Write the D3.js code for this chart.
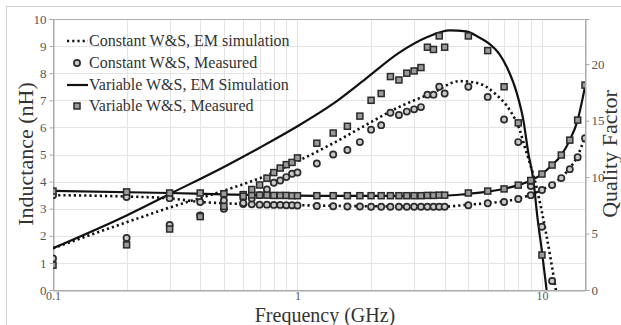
<!DOCTYPE html>
<html><head><meta charset="utf-8">
<script src="https://cdn.jsdelivr.net/npm/d3@7"></script>
<style>
body{margin:0;background:#fff}
svg{display:block}
text{font-family:"Liberation Serif","Times New Roman",serif}
</style>
</head><body>
<svg id="chart" width="621" height="325"></svg>
<script>
// Axis ticks
const freqTicks = [0.1, 1, 10];
const freqGrid = [0.2,0.3,0.4,0.5,0.6,0.7,0.8,0.9,1,2,3,4,5,6,7,8,9,10];
const inductanceTicks = [0,1,2,3,4,5,6,7,8,9,10];
const qTicks = [0,5,10,15,20];

// Measured sweep frequencies (GHz)
const measFreq = [0.1,0.2,0.3,0.4,0.5,0.6,0.65,0.7,0.75,0.8,0.85,0.9,0.95,1.0,
  1.2,1.4,1.6,1.8,2.0,2.2,2.4,2.6,2.8,3.0,3.2,3.4,3.6,3.8,4.0,
  5,6,7,8,9,10,11,12,13,14,15];

// Inductance, measured (nH)
const indConstMeas = [3.50,3.43,3.39,3.25,3.30,3.17,3.16,3.15,3.15,3.14,3.14,3.13,3.13,3.12,
  3.10,3.09,3.08,3.08,3.07,3.07,3.07,3.07,3.07,3.07,3.07,3.07,3.07,3.07,3.07,
  3.13,3.20,3.25,3.36,3.50,3.69,3.87,4.13,4.46,4.90,5.60];
const indVarMeas = [3.65,3.62,3.58,3.58,3.55,3.52,3.51,3.50,3.50,3.49,3.49,3.49,3.48,3.48,
  3.48,3.48,3.48,3.48,3.48,3.48,3.48,3.48,3.48,3.48,3.48,3.49,3.49,3.50,3.50,
  3.58,3.65,3.73,3.87,4.02,4.28,4.61,4.98,5.53,6.27,7.56];

// Quality factor, measured
const qConstMeas = [2.8,4.6,5.75,6.6,7.2,7.7,8.1,8.4,8.9,9.5,9.7,10.0,10.3,10.4,
  11.2,12.0,12.4,13.1,14.2,14.6,15.7,15.5,15.8,16.0,16.2,17.3,17.3,18.0,17.4,
  18.0,17.1,15.1,13.1,9.2,5.6,0.8];
const qVarMeas = [2.2,4.0,5.4,6.5,7.4,8.3,8.9,9.3,9.9,10.4,10.8,11.1,11.3,11.7,
  13.0,13.9,14.5,15.4,16.8,17.4,18.9,18.6,19.2,19.4,19.7,21.5,21.3,22.5,21.5,
  22.5,21.2,18.0,14.8,9.7,3.1];

// EM simulation curves
const indConstSimF = [0.1,0.2,0.3,0.4,0.5,0.7,1,2,4,4.9,5.9,7,8,9,10,11,12,13,14,15];
const indConstSim  = [3.50,3.45,3.38,3.25,3.20,3.16,3.13,3.09,3.08,3.14,3.20,3.27,3.37,3.52,3.70,3.90,4.15,4.50,4.95,5.65];
const indVarSimF = [0.1,0.3,0.5,1,2,4,4.9,5.9,6.7,8,9,10,11,12,13,14,15];
const indVarSim  = [3.66,3.58,3.53,3.48,3.47,3.48,3.54,3.62,3.70,3.87,4.04,4.28,4.61,4.98,5.53,6.27,7.50];
const qConstSimF = [0.1,0.2,0.3,0.5,0.72,1.0,1.4,1.9,2.6,3.6,4.6,5.5,6.5,7.4,8.1,8.5,9.5,10.4,11.4];
const qConstSim  = [3.7,6.0,7.3,8.8,10.0,11.4,13.0,14.6,16.2,17.5,18.5,18.3,17.3,15.9,14.2,12.7,9.1,5.0,0];
const qVarSimF = [0.1,0.2,0.3,0.5,0.7,1.0,1.4,1.9,2.6,3.4,4.2,4.9,5.5,6.1,6.7,7.2,7.9,8.4,8.8,9.2,9.6,10.0,10.45];
const qVarSim  = [3.7,6.6,8.5,10.9,12.6,14.5,16.5,18.7,21.0,22.4,23.0,22.9,22.4,21.8,20.9,19.7,17.4,15.0,12.1,9.9,6.3,3.4,0];

const legendLabels = ["Constant W&S, EM simulation","Constant W&S, Measured",
  "Variable W&S, EM Simulation","Variable W&S, Measured"];

const serif = "'Liberation Serif','Times New Roman',serif";
const svg = d3.select("#chart");
const L = 53, R = 585, T = 19, B = 290;

const x = d3.scaleLog().domain([0.1, 15]).range([L, R]);
const yL = d3.scaleLinear().domain([0, 10]).range([B, T]);
const yQ = d3.scaleLinear().domain([0, 24]).range([B, T]);

// outer frame
svg.append("rect").attr("x",6.5).attr("y",6.5).attr("width",700).attr("height",400)
  .attr("fill","none").attr("stroke","#cfcfcf");

svg.append("defs").append("clipPath").attr("id","plotClip")
  .append("rect").attr("x",L).attr("y",T).attr("width",R-L).attr("height",B-T);

// grid
const grid = svg.append("g").attr("stroke","#e4e4e4").attr("stroke-width",1);
freqGrid.forEach(f => grid.append("line")
  .attr("x1",Math.round(x(f))+0.5).attr("x2",Math.round(x(f))+0.5).attr("y1",T).attr("y2",B));
inductanceTicks.slice(1,-1).forEach(v => grid.append("line")
  .attr("x1",L).attr("x2",R).attr("y1",Math.round(yL(v))+0.5).attr("y2",Math.round(yL(v))+0.5));

// box
svg.append("rect").attr("x",L+0.5).attr("y",T+0.5).attr("width",R-L).attr("height",B-T)
  .attr("fill","none").attr("stroke","#b0b0b0");

// axes
function styleAxis(g, size){
  g.attr("font-family", serif);
  g.select(".domain").attr("stroke","#a8a8a8");
  g.selectAll(".tick line").attr("stroke","#a8a8a8");
  g.selectAll(".tick text").attr("fill","#555").style("font-size",size+"px")
    .style("font-family",serif);
}
svg.append("g").attr("transform",`translate(0,${B+0.5})`)
  .call(d3.axisBottom(x).tickValues(freqTicks).tickFormat(d3.format("")).tickSize(0).tickPadding(1))
  .call(g=>styleAxis(g,12));
svg.append("g").attr("transform",`translate(${L+0.5},0)`)
  .call(d3.axisLeft(yL).tickValues(inductanceTicks).tickSize(4).tickPadding(3))
  .call(g=>styleAxis(g,13));
svg.append("g").attr("transform",`translate(${R+0.5},0)`)
  .call(d3.axisRight(yQ).tickValues(qTicks).tickSize(4).tickPadding(2))
  .call(g=>styleAxis(g,13));

// axis titles
svg.append("text").attr("x",325).attr("y",322).attr("text-anchor","middle")
  .attr("fill","#333").style("font-family",serif).style("font-size","20px").text("Frequency (GHz)");
svg.append("text").attr("transform","translate(33,154) rotate(-90)").attr("text-anchor","middle")
  .attr("fill","#333").style("font-family",serif).style("font-size","22px").text("Inductance (nH)");
svg.append("text").attr("transform","translate(617,154) rotate(-90)").attr("text-anchor","middle")
  .attr("fill","#333").style("font-family",serif).style("font-size","22px").text("Quality Factor");

const plot = svg.append("g").attr("clip-path","url(#plotClip)");
const zip = (a,b) => a.map((v,i)=>[v,b[i]]);

function curve(fs, vs, ys, dotted){
  const line = d3.line().x(d=>x(d[0])).y(d=>ys(d[1])).curve(d3.curveMonotoneX);
  plot.append("path").datum(zip(fs,vs)).attr("d",line).attr("fill","none")
    .attr("stroke","#111").attr("stroke-width",dotted?2.6:2.2)
    .attr("stroke-dasharray",dotted?"2.2,3":null);
}
function circles(fs, vs, ys){
  plot.append("g").selectAll("circle").data(zip(fs,vs)).join("circle")
    .attr("cx",d=>x(d[0])).attr("cy",d=>ys(d[1])).attr("r",3.1)
    .attr("fill","#c8c8c8").attr("stroke","#2a2a2a").attr("stroke-width",1.7);
}
function squares(fs, vs, ys){
  plot.append("g").selectAll("rect").data(zip(fs,vs)).join("rect")
    .attr("x",d=>x(d[0])-3).attr("y",d=>ys(d[1])-3).attr("width",6).attr("height",6)
    .attr("fill","#9a9a9a").attr("stroke","#2a2a2a").attr("stroke-width",1.5);
}

curve(indConstSimF, indConstSim, yL, true);
curve(qConstSimF, qConstSim, yQ, true);
curve(indVarSimF, indVarSim, yL, false);
curve(qVarSimF, qVarSim, yQ, false);
circles(measFreq, indConstMeas, yL);
circles(measFreq.slice(0, qConstMeas.length), qConstMeas, yQ);
squares(measFreq, indVarMeas, yL);
squares(measFreq.slice(0, qVarMeas.length), qVarMeas, yQ);

// legend
const lg = svg.append("g");
const rowY = [46, 68, 90, 111];
legendLabels.forEach((t,i)=>{
  const cy = rowY[i]-5;
  if(i===0 || i===2){
    lg.append("line").attr("x1",67).attr("x2",88).attr("y1",cy).attr("y2",cy)
      .attr("stroke","#111").attr("stroke-width",i===0?2.6:2.2)
      .attr("stroke-dasharray",i===0?"2.2,3":null);
  } else if(i===1){
    lg.append("circle").attr("cx",77).attr("cy",cy).attr("r",3.1)
      .attr("fill","#c8c8c8").attr("stroke","#2a2a2a").attr("stroke-width",1.7);
  } else {
    lg.append("rect").attr("x",74).attr("y",cy-3).attr("width",6).attr("height",6)
      .attr("fill","#9a9a9a").attr("stroke","#2a2a2a").attr("stroke-width",1.5);
  }
  lg.append("text").attr("x",89).attr("y",rowY[i]).attr("fill","#333")
    .style("font-family",serif).style("font-size","16px").text(t);
});
</script>
</body></html>
